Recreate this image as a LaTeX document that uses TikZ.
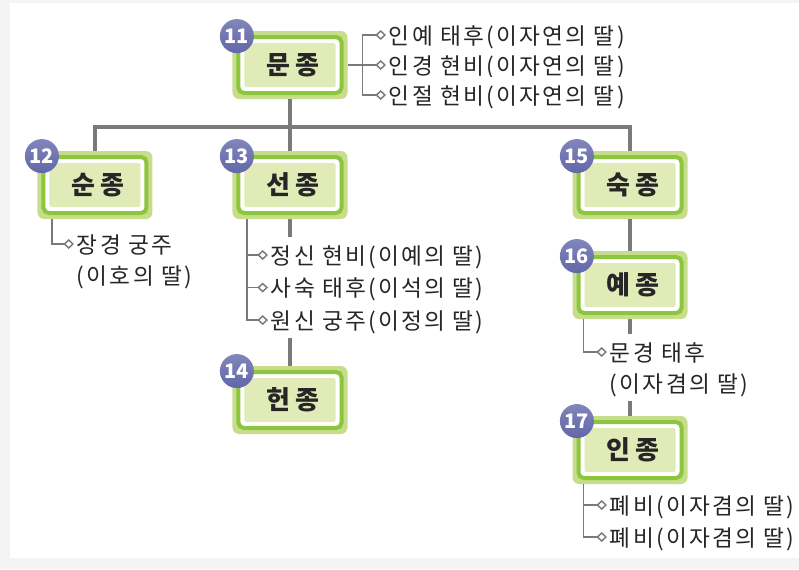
\documentclass[tikz,border=0pt]{standalone}
\usepackage{fontspec}
\setmainfont{Noto Sans CJK KR}
\newfontfamily\wifefont{Noto Sans CJK KR}[LetterSpace=10]
\newfontfamily\kingfont{Noto Sans CJK KR}[LetterSpace=22]
\usetikzlibrary{positioning,arrows.meta,shapes}
\pgfdeclarelayer{background}
\pgfsetlayers{background,main}
\definecolor{rimgreen}{HTML}{C8DD8B}
\definecolor{ringgreen}{HTML}{8CC63F}
\definecolor{panegreen}{HTML}{E0EBB8}
\definecolor{badgeblue}{HTML}{6167A9}
\definecolor{linegray}{HTML}{7A7A7A}
\definecolor{inkgray}{HTML}{262626}
\definecolor{pagegray}{HTML}{F4F4F4}
\tikzset{
  king/.style={rectangle, rounded corners=5pt, fill=rimgreen, minimum width=86.25pt,
    minimum height=51pt, inner sep=0pt, text=inkgray,
    font=\kingfont\fontsize{19.5}{22}\selectfont\bfseries,
    execute at end node={\hspace{-.22em}},
    path picture={
      \draw[ringgreen, fill=white, line width=3pt, rounded corners=4pt]
        ([shift={(4.5pt,-4.5pt)}]path picture bounding box.north west) rectangle
        ([shift={(-4.5pt,4.5pt)}]path picture bounding box.south east);
      \fill[panegreen, rounded corners=1.5pt]
        ([shift={(9pt,-9pt)}]path picture bounding box.north west) rectangle
        ([shift={(-9pt,9pt)}]path picture bounding box.south east);
    }},
  badge/.style={circle, minimum size=25.5pt, inner sep=0pt, top color=badgeblue!80!white,
    bottom color=badgeblue, text=white, font=\fontsize{15}{15}\selectfont\bfseries},
  wife/.style={fill=white, inner xsep=2pt, inner ysep=3.5pt, text height=16.5pt,
    text depth=3pt, text=inkgray, font=\wifefont\fontsize{17}{20}\selectfont},
  trunk/.style={draw=linegray, line width=2.6pt},
  tick/.style={draw=linegray, line width=1.1pt, -{Diamond[open, length=8pt, width=7.5pt]}},
}

\begin{document}
\begin{tikzpicture}[node distance=2cm, on grid, auto]
  \useasboundingbox (-217.5pt,48.75pt) rectangle (381.75pt,-378pt);
  \begin{pgfonlayer}{background}
    \fill[pagegray] (-217.5pt,48.75pt) rectangle (381.75pt,-378pt);
    \fill[white] (-210pt,46.5pt) rectangle (381.75pt,-369.75pt);
  \end{pgfonlayer}

  % kings
  \node[king] (munjong) at (0,0) {문종};
  \node[king] (seonjong) [below=90pt of munjong] {선종};
  \node[king] (sunjong) [left=146.25pt of seonjong] {순종};
  \node[king] (sukjong) [right=255pt of seonjong] {숙종};
  \node[king] (heonjong) [below=161.25pt of seonjong] {헌종};
  \node[king] (yejong) [below=75pt of sukjong] {예종};
  \node[king] (injong) [below=123.75pt of yejong] {인종};

  \node[badge] (n11) at ([shift={(3.5pt,-4pt)}]munjong.north west) {11};
  \node[badge] (n12) at ([shift={(3.5pt,-4pt)}]sunjong.north west) {12};
  \node[badge] (n13) at ([shift={(3.5pt,-4pt)}]seonjong.north west) {13};
  \node[badge] (n14) at ([shift={(3.5pt,-4pt)}]heonjong.north west) {14};
  \node[badge] (n15) at ([shift={(3.5pt,-4pt)}]sukjong.north west) {15};
  \node[badge] (n16) at ([shift={(3.5pt,-4pt)}]yejong.north west) {16};
  \node[badge] (n17) at ([shift={(3.5pt,-4pt)}]injong.north west) {17};

  % queens
  \node[wife, right=72pt of munjong, anchor=west] (munwife2) {인경 현비(이자연의 딸)};
  \node[wife, above=22.5pt of munwife2.west, anchor=west] (munwife1) {인예 태후(이자연의 딸)};
  \node[wife, below=22.5pt of munwife2.west, anchor=west] (munwife3) {인절 현비(이자연의 딸)};
  \coordinate (munfork) at ([xshift=11pt]munjong.east);

  \node[wife, below left=44.25pt and 15.75pt of sunjong, anchor=west] (sunwife) {장경 궁주};
  \node[wife, below=23.25pt of sunwife.west, anchor=west] (sunwifeb) {(이호의 딸)};

  \node[wife, below left=52.5pt and 16.5pt of seonjong, anchor=west] (seonwife1) {정신 현비(이예의 딸)};
  \node[wife, below=24.4pt of seonwife1.west, anchor=west] (seonwife2) {사숙 태후(이석의 딸)};
  \node[wife, below=24.4pt of seonwife2.west, anchor=west] (seonwife3) {원신 궁주(이정의 딸)};

  \node[wife, below left=50.25pt and 17.25pt of yejong, anchor=west] (yewife) {문경 태후};
  \node[wife, below=23.25pt of yewife.west, anchor=west] (yewifeb) {(이자겸의 딸)};

  \node[wife, below left=41.25pt and 17.25pt of injong, anchor=west] (inwife1) {폐비(이자겸의 딸)};
  \node[wife, below=24pt of inwife1.west, anchor=west] (inwife2) {폐비(이자겸의 딸)};

  % succession
  \coordinate (split) at ([yshift=-46.5pt]munjong.center);
  \draw[trunk] (munjong.south) -- (seonjong.north);
  \draw[trunk] (sunjong.north) |- (split) -| (sukjong.north);
  \draw[trunk] (sukjong.south) -- (yejong.north);
  \begin{pgfonlayer}{background}
    \draw[trunk] (seonjong.south) -- (heonjong.north);
    \draw[trunk] (yejong.south) -- (injong.north);
  \end{pgfonlayer}

  % marriages
  \draw[tick] (munjong.east) -- (munwife2.west);
  \draw[tick] (munfork) |- (munwife1.west);
  \draw[tick] (munfork) |- (munwife3.west);
  \draw[tick] ([xshift=11.25pt]sunjong.south west) |- (sunwife.west);
  \draw[tick] ([xshift=11.25pt]seonjong.south west) |- (seonwife1.west);
  \draw[tick] ([xshift=11.25pt]seonjong.south west) |- (seonwife2.west);
  \draw[tick] ([xshift=11.25pt]seonjong.south west) |- (seonwife3.west);
  \draw[tick] ([xshift=8.25pt]yejong.south west) |- (yewife.west);
  \draw[tick] ([xshift=8.25pt]injong.south west) |- (inwife1.west);
  \draw[tick] ([xshift=8.25pt]injong.south west) |- (inwife2.west);
\end{tikzpicture}
\end{document}
